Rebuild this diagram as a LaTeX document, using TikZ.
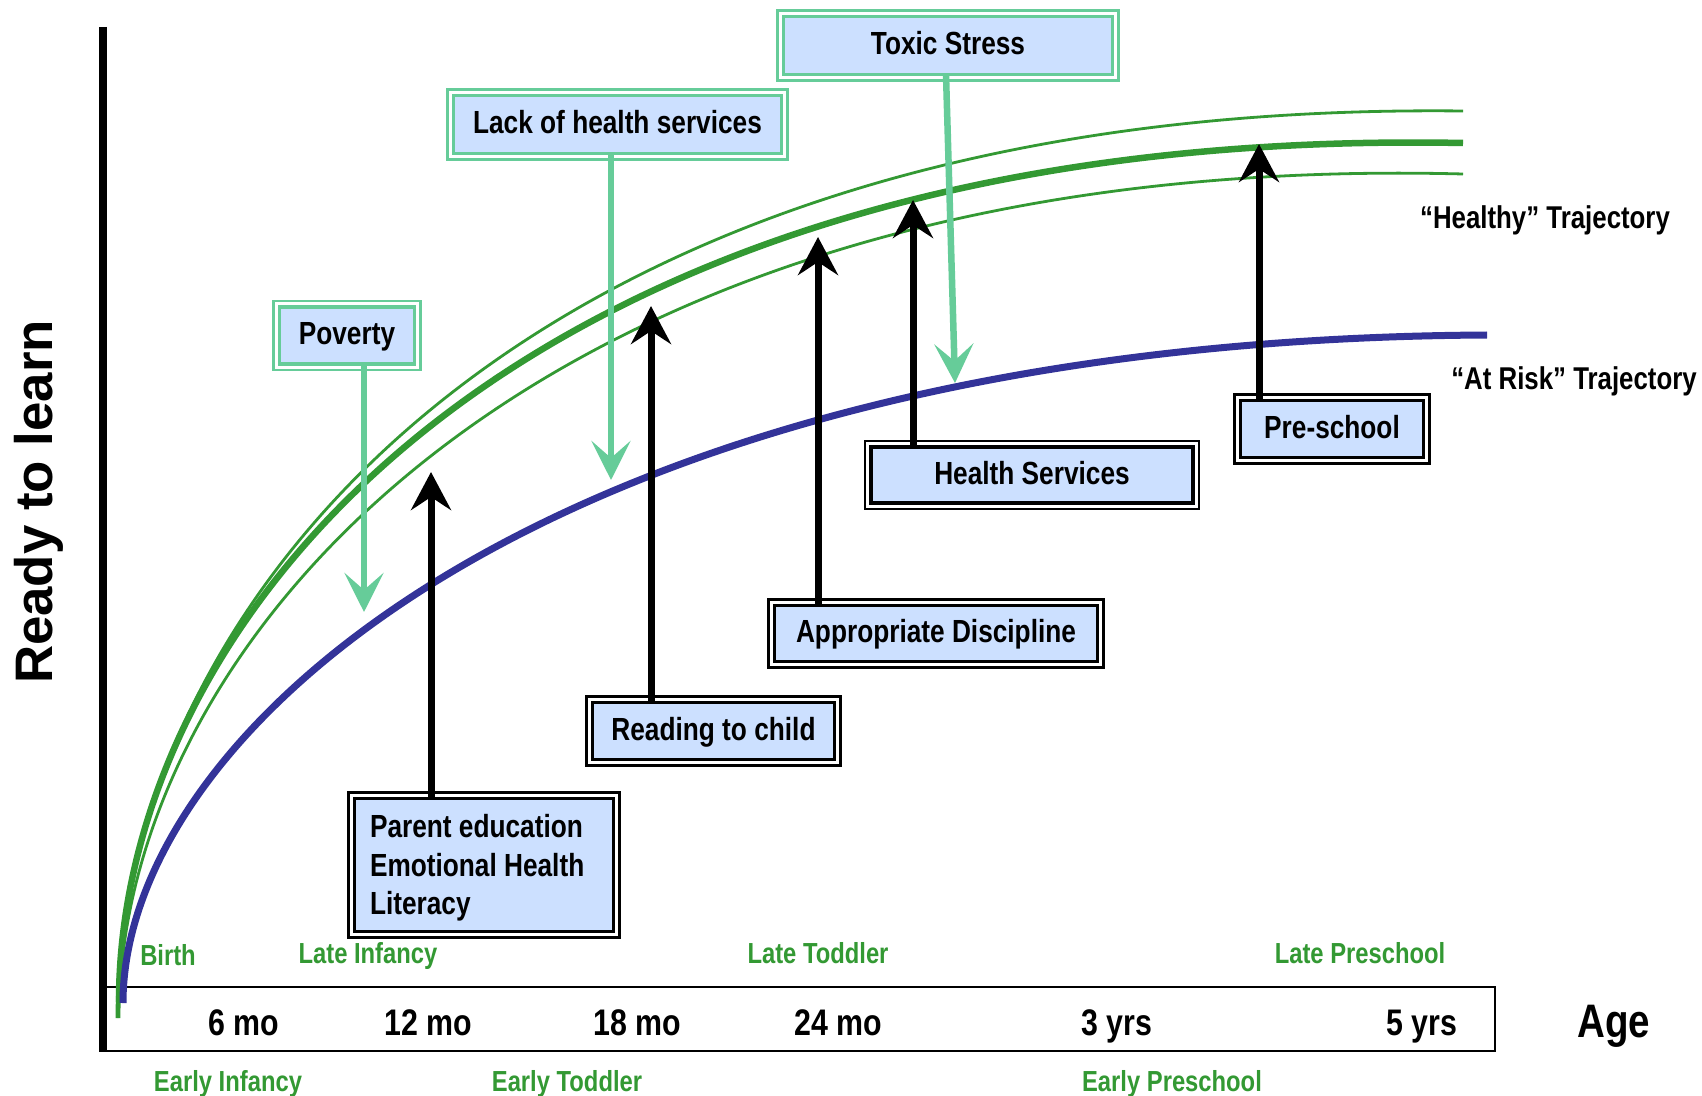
\documentclass[tikz,border=0pt]{standalone}
\usepackage{fontspec}
\setmainfont{Liberation Sans}[FakeStretch=0.82]
\newfontfamily\widesans{Liberation Sans}
\usetikzlibrary{arrows.meta}

\definecolor{trajgreen}{RGB}{51,153,51}
\definecolor{riskblue}{RGB}{51,51,153}
\definecolor{riskgreen}{RGB}{102,204,153}
\definecolor{boxfill}{RGB}{204,224,255}

\newcommand\fBox{\fontsize{16}{19.25}\selectfont\bfseries}
\newcommand\fTick{\fontsize{18.5}{22}\selectfont\bfseries}
\newcommand\fStage{\fontsize{14.5}{17}\selectfont\bfseries}
\newcommand\fTraj{\fontsize{15.75}{19}\selectfont\bfseries}
\newcommand\fAge{\fontsize{23.5}{28}\selectfont\bfseries}
\newcommand\fReady{\widesans\fontsize{26.4}{30}\selectfont\bfseries}

\tikzset{
  traj/.style={line cap=butt, line join=round},
  thinhealthy/.style={traj, draw=trajgreen, line width=1.4pt},
  mainhealthy/.style={traj, draw=trajgreen, line width=3.25pt},
  atrisk/.style={traj, draw=riskblue, line width=3.5pt},
  riskarrow/.style={draw=riskgreen, line width=3.25pt,
    -{Stealth[length=19.5pt,width=19.5pt,inset=8.5pt]}},
  supportarrow/.style={draw=black, line width=3.5pt,
    -{Stealth[length=19pt,width=20pt,inset=6.5pt]}},
  boxbase/.style={rectangle, fill=boxfill, line width=1.8pt, inner sep=0pt,
    outer sep=0pt, text height=11.5pt, text depth=2.2pt, font=\fBox},
  riskbox/.style={boxbase, draw=riskgreen},
  supportbox/.style={boxbase, draw=black},
  rim/.style={line width=1.2pt},
  ticklabel/.style={font=\fTick, text height=13.25pt, text depth=0pt, inner sep=0pt},
  stagelabel/.style={font=\fStage, text=trajgreen, text height=10.4pt,
    text depth=0pt, inner sep=0pt},
  trajlabel/.style={font=\fTraj, text height=11.3pt, text depth=0pt, inner sep=0pt},
}

\begin{document}
\begin{tikzpicture}[x=0.5pt,y=-0.5pt]
  \fill[white] (0,0) rectangle (1702,1096);
  \useasboundingbox (0,0) rectangle (1702,1096);

  % axes
  \draw[line width=3.75pt] (103,27) -- (103,1052);
  \draw[line width=1.25pt] (103,987) rectangle (1495,1051);

  % trajectories
  \draw[thinhealthy] (117,1018) .. controls (117,620) and (500,100) .. (1463,111);
  \draw[thinhealthy] (119,1018) .. controls (119,640) and (540,150) .. (1463,174);
  \draw[mainhealthy] (119,1002) .. controls (119,615) and (520,125) .. (1463,143);
  \draw[atrisk] (123,1003) .. controls (123,730) and (560,340) .. (1487,335);

  % risk factors
  \node[riskbox, minimum width=164.5pt, minimum height=29pt] (toxic) at (948,45.5) {Toxic Stress};
  \node[riskbox, minimum width=164pt, minimum height=29pt] (lack) at (617.5,124.5) {Lack of health services};
  \node[riskbox, minimum width=67.5pt, minimum height=28.5pt] (poverty) at (347,335.5) {Poverty};

  % supports
  \node[supportbox, text height=, text depth=, align=left, text width=114pt,
        inner xsep=7.75pt, minimum height=66.5pt] (parent) at (484,865)
        {\spaceskip=0pt\xspaceskip=0pt\relax
         \rule{0pt}{14.5pt}Parent education\\Emotional Health\\Literacy};
  \node[supportbox, minimum width=121pt, minimum height=28.5pt] (reading) at (713.5,731) {Reading to child};
  \node[supportbox, minimum width=161.5pt, minimum height=28pt] (discipline) at (936,633.5) {Appropriate Discipline};
  \node[supportbox, minimum width=161pt, minimum height=28pt] (health) at (1032,475) {Health Services};
  \node[supportbox, minimum width=91.5pt, minimum height=28.5pt] (preschool) at (1332,429) {Pre-school};

  % outer rims of the boxes
  \foreach \b/\c in {toxic/riskgreen, lack/riskgreen, poverty/riskgreen,
      parent/black, reading/black, discipline/black, health/black, preschool/black}
    \draw[rim, \c] ([shift={(-3pt,-3pt)}]\b.south west) rectangle ([shift={(3pt,3pt)}]\b.north east);

  % arrow tips
  \coordinate (tipPoverty) at (364,612);
  \coordinate (tipLack) at (611,480);
  \coordinate (tipToxic) at (955,383);
  \coordinate (tipParent) at (431,472);
  \coordinate (tipReading) at (651,306);
  \coordinate (tipDiscipline) at (818,237);
  \coordinate (tipHealth) at (913,200);
  \coordinate (tipPreschool) at (1259,144);

  % risks push down, supports push up
  \draw[riskarrow] (tipPoverty |- poverty.south) -- (tipPoverty);
  \draw[riskarrow] (tipLack |- lack.south) -- (tipLack);
  \draw[riskarrow] ([xshift=-1pt]toxic.south) -- (tipToxic);
  \draw[supportarrow] (tipParent |- parent.north) -- (tipParent);
  \draw[supportarrow] (tipReading |- reading.north) -- (tipReading);
  \draw[supportarrow] (tipDiscipline |- discipline.north) -- (tipDiscipline);
  \draw[supportarrow] (tipHealth |- health.north) -- (tipHealth);
  \draw[supportarrow] (tipPreschool |- preschool.north) -- (tipPreschool);

  % axis labels
  \node[rotate=90, font=\fReady, text height=18.9pt, text depth=0pt, inner sep=0pt]
    (ylabel) at (34,502) {Ready to learn};
  \node[font=\fAge, text height=16.8pt, text depth=0pt, inner sep=0pt] (age) at (1614,1021) {Age};
  \node[ticklabel] (m6)  at (244,1022) {6 mo};
  \node[ticklabel] (m12) at (428,1022) {12 mo};
  \node[ticklabel] (m18) at (637,1022) {18 mo};
  \node[ticklabel] (m24) at (838,1022) {24 mo};
  \node[ticklabel] (y3)  at (1117,1022) {3 yrs};
  \node[ticklabel] (y5)  at (1422,1022) {5 yrs};

  % developmental stages
  \node[stagelabel] (birth) at (168,955) {Birth};
  \node[stagelabel] (lateinf) at (368,953) {Late Infancy};
  \node[stagelabel] (latetod) at (818,953) {Late Toddler};
  \node[stagelabel] (latepre) at (1360,953) {Late Preschool};
  \node[stagelabel] (earlyinf) at (228,1081) {Early Infancy};
  \node[stagelabel] (earlytod) at (567,1081) {Early Toddler};
  \node[stagelabel] (earlypre) at (1172,1081) {Early Preschool};

  % trajectory names
  \node[trajlabel] (healthy) at (1545,217) {“Healthy” Trajectory};
  \node[trajlabel] (risk) at (1574,378) {“At Risk” Trajectory};
\end{tikzpicture}
\end{document}
